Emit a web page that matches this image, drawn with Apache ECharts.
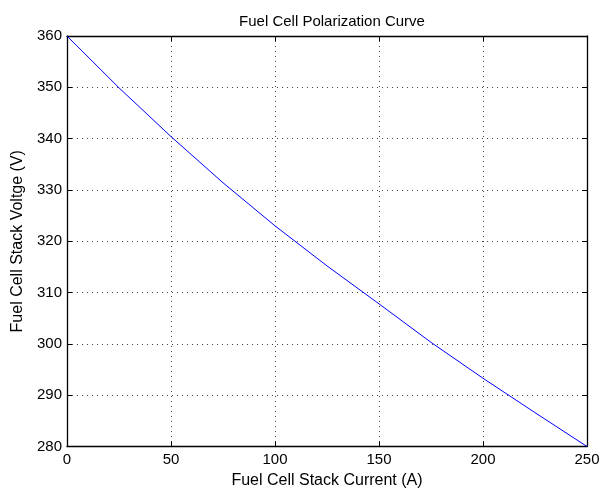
<!DOCTYPE html>
<html>
<head>
<meta charset="utf-8">
<script src="https://cdn.jsdelivr.net/npm/echarts@6/dist/echarts.min.js"></script>
<style>html,body{margin:0;padding:0;background:#fff}#c{width:605px;height:495px}</style>
</head>
<body>
<div id="c"></div>
<script>
const current = [0, 25, 50, 75, 100, 125, 150, 175, 200, 225, 250];
const voltage = [360, 349.9, 340.4, 331.4, 323.0, 315.2, 307.8, 300.3, 293.3, 286.6, 280];
const xTicks = [0, 50, 100, 150, 200, 250];
const yTicks = [280, 290, 300, 310, 320, 330, 340, 350, 360];

const font = 'Liberation Sans, Arial, sans-serif';
const chart = echarts.init(document.getElementById('c'));
const grid = {left: 67, right: 18, top: 36, bottom: 48.5, containLabel: false};
const baseX = {
  type: 'value', min: xTicks[0], max: xTicks[xTicks.length - 1], interval: 50,
  axisLine: {show: true, onZero: false, lineStyle: {color: '#000', width: 1.3}},
  axisTick: {show: true, inside: true, length: 5, lineStyle: {color: '#000'}},
  splitLine: {show: false}
};
const baseY = {
  type: 'value', min: yTicks[0], max: yTicks[yTicks.length - 1], interval: 10,
  axisLine: {show: true, onZero: false, lineStyle: {color: '#000', width: 1.3}},
  axisTick: {show: true, inside: true, length: 5, lineStyle: {color: '#000'}},
  splitLine: {show: false}
};
chart.setOption({
  animation: false,
  backgroundColor: '#fff',
  title: {
    text: 'Fuel Cell Polarization Curve', left: 327, top: 9, textAlign: 'center',
    textStyle: {fontFamily: font, fontSize: 15, fontWeight: 'normal', color: '#000'}
  },
  grid: grid,
  xAxis: [
    Object.assign({}, baseX, {
      position: 'bottom',
      name: 'Fuel Cell Stack Current (A)', nameLocation: 'middle', nameGap: 25,
      nameTextStyle: {fontFamily: font, fontSize: 16, color: '#000'},
      axisLabel: {show: true, fontFamily: font, fontSize: 15, color: '#000', margin: 6},
      splitLine: {show: true, lineStyle: {color: '#444', type: [1, 4], width: 1}}
    }),
    Object.assign({}, baseX, {position: 'top', axisLabel: {show: false}})
  ],
  yAxis: [
    Object.assign({}, baseY, {
      position: 'left',
      name: 'Fuel Cell Stack Voltge (V)', nameLocation: 'middle', nameGap: 39,
      nameTextStyle: {fontFamily: font, fontSize: 16, color: '#000'},
      axisLabel: {show: true, fontFamily: font, fontSize: 15, color: '#000', margin: 5},
      splitLine: {show: true, lineStyle: {color: '#444', type: [1, 4], width: 1}}
    }),
    Object.assign({}, baseY, {position: 'right', axisLabel: {show: false}})
  ],
  series: [{
    type: 'line',
    data: current.map((c, i) => [c, voltage[i]]),
    showSymbol: false,
    lineStyle: {color: '#0000ff', width: 1},
    itemStyle: {color: '#0000ff'}
  }]
});
</script>
</body>
</html>
